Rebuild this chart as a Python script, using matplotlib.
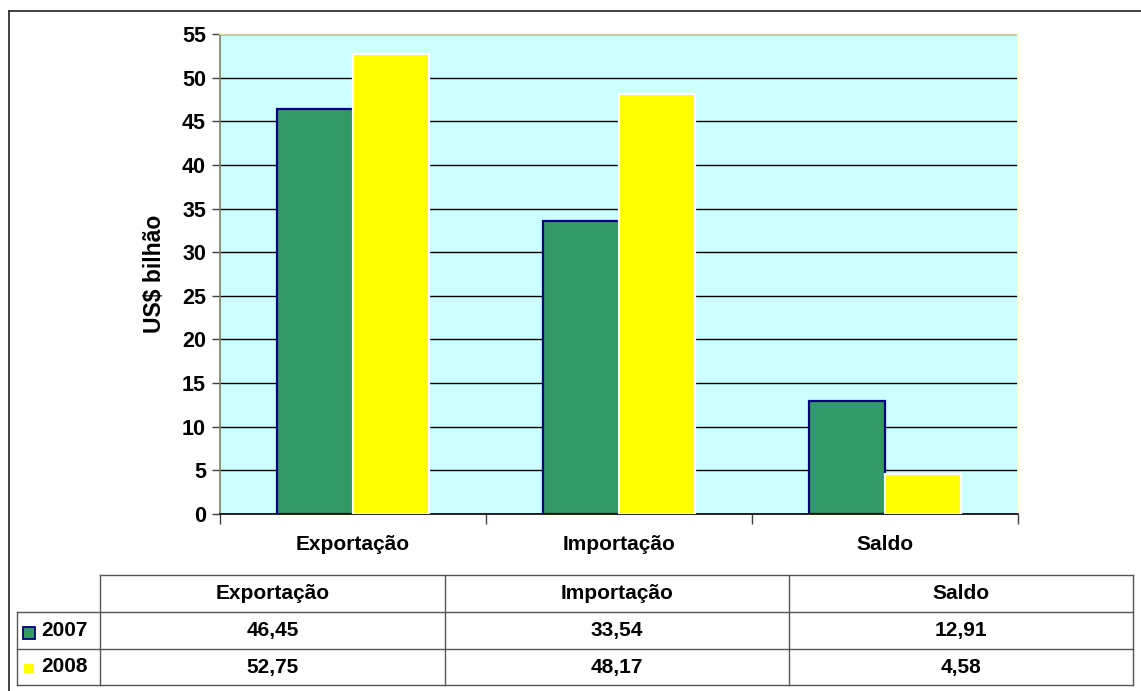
import matplotlib.pyplot as plt
from matplotlib.lines import Line2D
from matplotlib.patches import Rectangle
import numpy as np

plt.rcParams['font.family'] = ['Liberation Sans', 'DejaVu Sans']
plt.rcParams['font.weight'] = 'bold'

categories = ['Exportação', 'Importação', 'Saldo']
series_names = ['2007', '2008']
values_2007 = [46.45, 33.54, 12.91]
values_2008 = [52.75, 48.17, 4.58]
labels_2007 = ['46,45', '33,54', '12,91']
labels_2008 = ['52,75', '48,17', '4,58']
y_ticks = list(range(0, 60, 5))

W, H = 1141, 691
fig = plt.figure(figsize=(W / 100, H / 100), dpi=100)


def fx(px):
    return px / W


def fy(py):
    return 1 - py / H


ax = fig.add_axes([fx(220), fy(514), fx(1018) - fx(220), fy(34) - fy(514)])
ax.set_facecolor('#CCFFFF')

x = np.arange(len(categories))
bw = 0.286
ax.bar(x - bw / 2, values_2007, bw, color='#339966', edgecolor='#000080', linewidth=1.6, zorder=3)
ax.bar(x + bw / 2, values_2008, bw, color='#FFFF00', edgecolor='white', linewidth=1.6, zorder=3)

ax.set_xlim(-0.5, 2.5)
ax.set_ylim(0, 55)
ax.set_yticks(y_ticks)
ax.set_yticklabels([str(t) for t in y_ticks], fontsize=15.5, fontweight='bold')
ax.yaxis.grid(True, color='black', linewidth=1, zorder=1)
ax.set_axisbelow(True)

ax.set_xticks([-0.5, 0.5, 1.5, 2.5])
ax.set_xticklabels([])
ax.set_xticks(x, minor=True)
ax.set_xticklabels(categories, minor=True, fontsize=15, fontweight='bold')
ax.tick_params(axis='x', which='major', length=7, color='#404040', width=1)
ax.tick_params(axis='x', which='minor', length=0, pad=15)
ax.tick_params(axis='y', length=6, color='#404040', width=1, pad=4)

ax.set_ylabel('US$ bilhão', fontsize=16.5, fontweight='bold')
ax.yaxis.set_label_coords(-0.068, 0.5)

ax.spines['left'].set_color('#808060')
ax.spines['bottom'].set_color('black')
ax.spines['top'].set_color('#FFFFCC')
ax.spines['right'].set_color('#FFFFCC')
for s in ax.spines.values():
    s.set_linewidth(1.2)

# outer border
fig.add_artist(Line2D([fx(9), fx(9)], [fy(11), fy(691)], color='#333333', lw=1.3))
fig.add_artist(Line2D([fx(9), fx(1141)], [fy(11), fy(11)], color='#333333', lw=1.3))

# data table
col_edges = [100, 445, 789, 1133]
row_edges = [575, 612, 649, 685]
lc = '#555555'
fig.add_artist(Line2D([fx(100), fx(1133)], [fy(575), fy(575)], color=lc, lw=1))
for ry in row_edges[1:]:
    fig.add_artist(Line2D([fx(17), fx(1133)], [fy(ry), fy(ry)], color=lc, lw=1))
fig.add_artist(Line2D([fx(17), fx(17)], [fy(612), fy(685)], color=lc, lw=1))
for cx in col_edges:
    fig.add_artist(Line2D([fx(cx), fx(cx)], [fy(575), fy(685)], color=lc, lw=1))

fs = 15
for i, cat in enumerate(categories):
    cx = (col_edges[i] + col_edges[i + 1]) / 2
    fig.text(fx(cx), fy(593.5), cat, ha='center', va='center', fontsize=fs, fontweight='bold')
    fig.text(fx(cx), fy(630.5), labels_2007[i], ha='center', va='center', fontsize=fs, fontweight='bold')
    fig.text(fx(cx), fy(667), labels_2008[i], ha='center', va='center', fontsize=fs, fontweight='bold')

fig.add_artist(Rectangle((fx(23), fy(639)), fx(12), fy(627) - fy(639),
                         facecolor='#339966', edgecolor='#000080', lw=1.3, transform=fig.transFigure))
fig.add_artist(Rectangle((fx(24), fy(673)), fx(10), fy(664) - fy(673),
                         facecolor='#FFFF00', edgecolor='none', transform=fig.transFigure))
fig.text(fx(41), fy(630.5), series_names[0], ha='left', va='center', fontsize=fs, fontweight='bold')
fig.text(fx(41), fy(667), series_names[1], ha='left', va='center', fontsize=fs, fontweight='bold')

fig.savefig('out.png', dpi=100)
